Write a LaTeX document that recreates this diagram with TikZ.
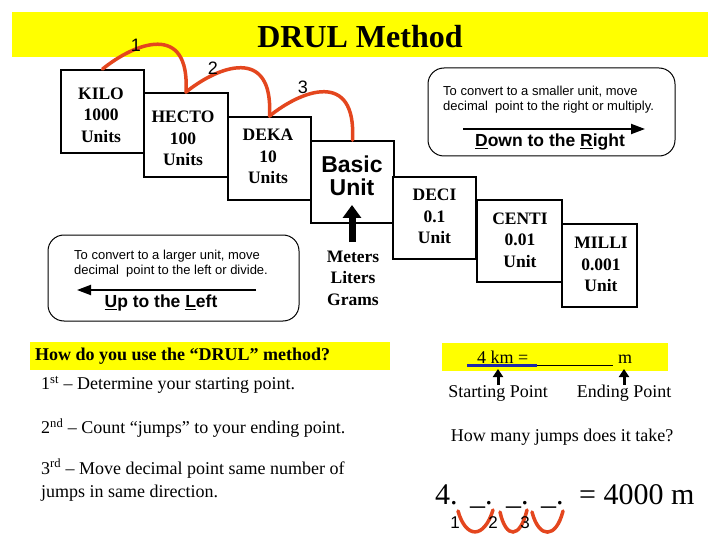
\documentclass[tikz,border=0pt]{standalone}
\usepackage{fontspec}
\setmainfont{Liberation Serif}
\setsansfont{Liberation Sans}
\usetikzlibrary{arrows.meta}
\definecolor{jumpred}{RGB}{228,70,30}
\definecolor{bandyellow}{RGB}{255,255,0}
\definecolor{lineblue}{RGB}{30,40,170}
\begin{document}
\begin{tikzpicture}[x=1pt,y=-1pt,
  box/.style={draw=black,line width=1.8pt,fill=white,inner sep=0pt},
  boxtext/.style={font=\fontsize{17.5}{21.5}\selectfont\bfseries,align=center,inner sep=0pt},
  jump/.style={draw=jumpred,line width=3.5pt,line cap=round},
  numlbl/.style={font=\sffamily\fontsize{18}{18}\selectfont,inner sep=0pt},
  note/.style={draw=black,line width=1pt,rounded corners=16pt,fill=white,inner sep=0pt},
  notetext/.style={font=\sffamily\fontsize{13}{15}\selectfont,align=left,inner sep=0pt,anchor=west},
  dirtext/.style={font=\sffamily\bfseries\fontsize{17.5}{18}\selectfont,inner sep=0pt},
  dirarrow/.style={line width=2pt,-{Triangle[length=14pt,width=10pt]}},
  body/.style={font=\fontsize{18}{23}\selectfont,inner sep=0pt},
  eqtext/.style={font=\fontsize{30}{32}\selectfont,inner sep=0pt,anchor=base west},
  band/.style={fill=bandyellow,draw=none},
  uparrow/.style={line width=3pt,-{Triangle[length=8pt,width=10pt]}},
]
\useasboundingbox (0,0) rectangle (720,540);
\fill[white] (0,0) rectangle (720,540);

% title band
\fill[band] (12,12) rectangle (708,57);
\node[font=\bfseries\fontsize{32}{34}\selectfont,inner sep=0pt] (title) at (360,37) {DRUL Method};

% staircase boxes
\node[box,minimum width=83pt,minimum height=83pt] (kilo) at (102.5,111.5) {};
\node[box,minimum width=84pt,minimum height=84pt] (hecto) at (186,135) {};
\node[box,minimum width=83pt,minimum height=83pt] (deka) at (269.5,158.5) {};
\node[box,minimum width=83pt,minimum height=82pt] (basic) at (352.5,182) {};
\node[box,minimum width=83pt,minimum height=82pt] (deci) at (434.5,218) {};
\node[box,minimum width=85pt,minimum height=82pt] (centi) at (519.5,241) {};
\node[box,minimum width=75pt,minimum height=83pt] (milli) at (599.5,265.5) {};

\node[boxtext] (kilotext) at (101,115) {KILO\\1000\\Units};
\node[boxtext] (hectotext) at (183,138.5) {HECTO\\100\\Units};
\node[boxtext] (dekatext) at (268,156.5) {DEKA\\10\\Units};
\node[font=\sffamily\bfseries\fontsize{23}{23}\selectfont,align=center,inner sep=0pt] (basictext) at (352,175.5) {Basic\\Unit};
\node[boxtext] (decitext) at (434.5,216.5) {DECI\\0.1\\Unit};
\node[boxtext] (centitext) at (520,240) {CENTI\\0.01\\Unit};
\node[boxtext] (millitext) at (601,264.5) {MILLI\\0.001\\Unit};

% base units
\node[boxtext] (mlg) at (353,278) {Meters\\Liters\\Grams};
\coordinate (basictip) at (352,205);
\coordinate (basictail) at (352,242);
\draw[line width=7pt,-{Triangle[length=13pt,width=18pt]}] (basictail) -- (basictip);

% jumps
\draw[jump] (kilo.north) .. controls +(32,-26) and +(4,-71) .. (hecto.north);
\draw[jump] (hecto.north) .. controls +(32,-26) and +(4,-71) .. (deka.north);
\draw[jump] (deka.north) .. controls +(32,-26) and +(4,-71) .. (basic.north);
\node[numlbl] (j1) at (136,45) {1};
\node[numlbl] (j2) at (213,68) {2};
\node[numlbl] (j3) at (303,87) {3};

% right note
\node[note,minimum width=247pt,minimum height=88pt] (rightnote) at (551.5,112) {};
\node[notetext] (righttext) at (443,99.5) {To convert to a smaller unit, move\\decimal~ point to the right or multiply.};
\coordinate (ra1) at (463,129);
\coordinate (ra2) at (645,129);
\draw[dirarrow] (ra1) -- (ra2);
\node[dirtext] (downright) at (550,142) {\underline{D}own to the \underline{R}ight};

% left note
\node[note,minimum width=251pt,minimum height=86pt] (leftnote) at (173.5,278) {};
\node[notetext] (lefttext) at (74,263.5) {To convert to a larger unit, move\\decimal~ point to the left or divide.};
\coordinate (la1) at (256,290);
\coordinate (la2) at (77,290);
\draw[dirarrow] (la1) -- (la2);
\node[dirtext] (upleft) at (161,303) {\underline{U}p to the \underline{L}eft};

% how do you use
\fill[band] (30,342) rectangle (390,370);
\node[body,font=\bfseries\fontsize{18}{22}\selectfont,anchor=west] (howhead) at (35,356) {How do you use the “DRUL” method?};
\node[body,anchor=west] (step1) at (41,385) {1\textsuperscript{st} – Determine your starting point.};
\node[body,anchor=west] (step2) at (41,428) {2\textsuperscript{nd} – Count “jumps” to your ending point.};
\node[body,anchor=west,align=left] (step3) at (41,480) {3\textsuperscript{rd} – Move decimal point same number of\\jumps in same direction.};

% example
\fill[band] (442,343) rectangle (668,371);
\node[body,anchor=base west] (km) at (477,363) {4 km =};
\node[body,anchor=base west] (mm) at (618,363) {m};
\coordinate (bl1) at (467,365);
\coordinate (bl2) at (537,365);
\coordinate (bl3) at (613,365);
\draw[lineblue,line width=3pt] (bl1) -- (bl2);
\draw[black,line width=1pt] (bl2) -- (bl3);
\node[body] (start) at (498,393) {Starting Point};
\node[body] (ending) at (624,393) {Ending Point};
\coordinate (sa) at (498,369);
\coordinate (ea) at (624,369);
\draw[uparrow] (start.north) -- (sa);
\draw[uparrow] (ending.north) -- (ea);
\node[body] (howmany) at (562,437) {How many jumps does it take?};

% answer line
\node[eqtext] (four) at (435,504) {4.};
\node[eqtext] (u1) at (470,504) {\_.};
\node[eqtext] (u2) at (506,504) {\_.};
\node[eqtext] (u3) at (541,504) {\_.};
\node[eqtext] (res) at (579,504) {= 4000 m};
\draw[jump] (458,511) .. controls (466,539) and (484,539) .. (493,510);
\draw[jump] (500,512) .. controls (506,539) and (520,539) .. (527,510);
\draw[jump] (532,512) .. controls (539,539) and (556,539) .. (563,511);
\node[numlbl,font=\sffamily\fontsize{17}{17}\selectfont] (b1) at (455,523) {1};
\node[numlbl,font=\sffamily\fontsize{17}{17}\selectfont] (b2) at (493,523) {2};
\node[numlbl,font=\sffamily\fontsize{17}{17}\selectfont] (b3) at (525,523) {3};
\end{tikzpicture}
\end{document}
